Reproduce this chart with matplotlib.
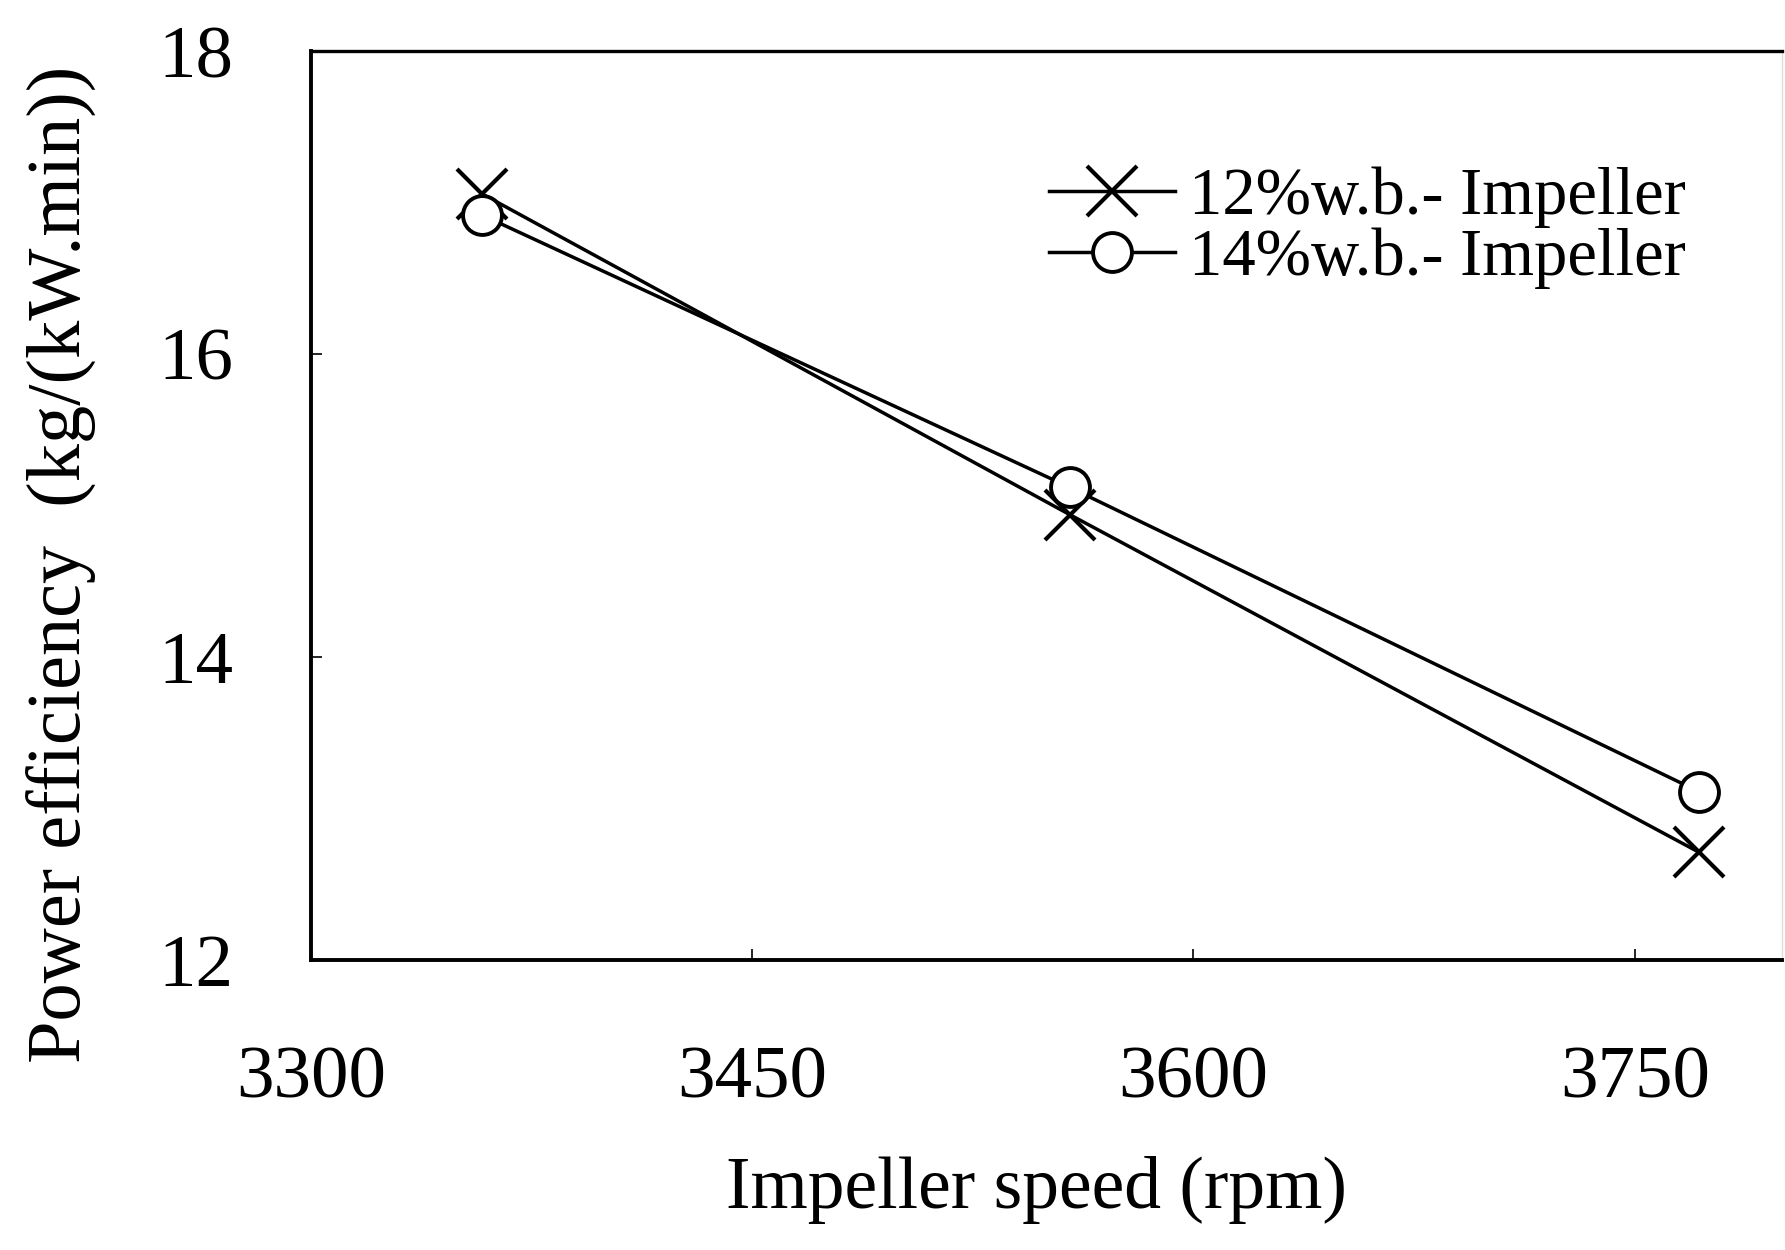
import matplotlib
matplotlib.use('Agg')
from matplotlib import pyplot as plt

speed = [3358, 3558, 3772]
eff_12 = [17.06, 14.94, 12.71]
eff_14 = [16.92, 15.12, 13.11]
xticks = [3300, 3450, 3600, 3750]
yticks = [12, 14, 16, 18]


def main():
  plt.rcParams['font.family'] = ['Liberation Serif', 'DejaVu Serif']
  fig = plt.figure(figsize=(17.85, 12.5), dpi=100)
  ax = fig.add_axes([0.1742, 0.232, 0.824, 0.727])

  ax.plot(speed, eff_12, color='black', lw=2.5, marker='x', ms=36,
          mew=3, label='12%w.b.- Impeller')
  ax.plot(speed, eff_14, color='black', lw=2.5, marker='o', ms=28,
          mew=2.8, mfc='white', label='14%w.b.- Impeller')

  ax.set_xlim(3300, 3800)
  ax.set_ylim(12, 18)
  ax.set_xticks(xticks)
  ax.set_yticks(yticks)
  ax.tick_params(direction='in', length=8, width=1.2, labelsize=54)
  ax.tick_params(axis='x', pad=62)
  ax.tick_params(axis='y', pad=56)

  for s in ['left', 'bottom']:
    ax.spines[s].set_linewidth(2.8)
  ax.spines['top'].set_linewidth(2.4)
  ax.spines['right'].set_linewidth(1)
  ax.spines['right'].set_color('#dddddd')

  ax.set_xlabel('Impeller speed (rpm)', fontsize=53, va='center')
  ax.xaxis.set_label_coords(0.493, -0.253)
  ax.set_ylabel('Power efficiency  (kg/(kW.min))', fontsize=55, va='center')
  ax.yaxis.set_label_coords(-0.169, 0.435)

  ax.legend(loc='upper left', bbox_to_anchor=(0.479, 0.91), frameon=False,
            fontsize=48, handlelength=1.9, handletextpad=0.2,
            labelspacing=0.0, borderpad=0)

  fig.savefig('out.png', dpi=100)


if __name__ == '__main__':
  main()
